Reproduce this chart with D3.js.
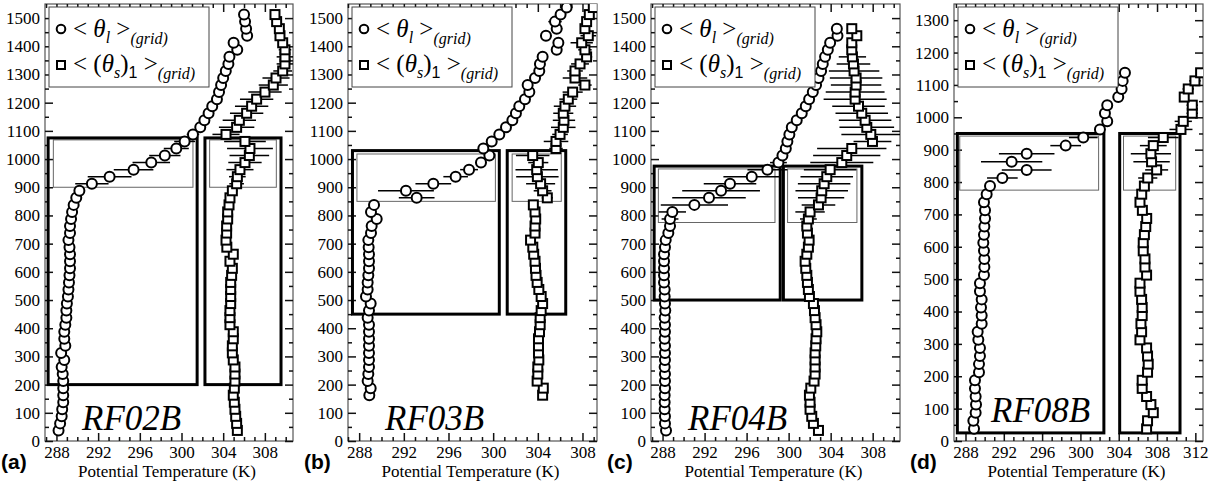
<!DOCTYPE html>
<html><head><meta charset="utf-8">
<script src="https://cdn.jsdelivr.net/npm/d3@7"></script>
<style>body{margin:0;background:#fff} svg{display:block} text{white-space:pre}</style>
</head><body><svg id="chart" width="1217" height="489"></svg>
<script>
// ---------------- DATA ----------------
const heightsA = [37.5,62.5,87.5,112.5,137.5,162.5,187.5,212.5,237.5,262.5,287.5,312.5,337.5,362.5,387.5,412.5,437.5,462.5,487.5,512.5,537.5,562.5,587.5,612.5,637.5,662.5,687.5,712.5,737.5,762.5,787.5,812.5,837.5,862.5,887.5,912.5,937.5,962.5,987.5,1012.5,1037.5,1062.5,1087.5,1112.5,1137.5,1162.5,1187.5,1212.5,1237.5,1262.5,1287.5,1312.5,1337.5,1362.5,1387.5,1412.5,1437.5,1462.5,1487.5,1512.5];
const thetaLA = [288.2,288.35,288.5,288.55,288.65,288.65,288.65,288.65,288.6,288.5,288.75,288.45,288.85,288.75,288.75,288.85,288.95,288.95,289.0,289.1,289.15,289.2,289.25,289.3,289.3,289.3,289.25,289.15,289.3,289.3,289.4,289.5,289.65,289.9,290.2,291.4,293.1,295.4,297.1,298.4,299.5,300.3,301.1,301.8,302.2,302.6,302.95,303.4,303.6,303.8,304.0,304.25,304.5,304.6,305.35,305.0,306.3,306.2,306.1,306.0];
const errLA = [0.2,0.2,0.2,0.2,0.2,0.2,0.2,0.2,0.2,0.2,0.2,0.2,0.2,0.2,0.2,0.2,0.2,0.2,0.2,0.2,0.2,0.2,0.2,0.2,0.2,0.2,0.2,0.2,0.2,0.2,0.2,0.25,0.3,0.3,0.4,1.6,2.1,1.9,1.8,1.5,1.2,1.0,0.6,0.4,0.3,0.3,0.3,0.3,0.3,0.3,0.3,0.3,0.3,0.3,0.3,0.3,0.3,0.2,0.2,0.2];
const thetaSA = [305.36,305.29,305.2,305.13,305.07,304.97,305.07,305.13,305.13,305.13,304.97,304.88,304.88,304.97,304.97,304.65,304.65,304.65,304.72,304.72,304.72,304.72,304.81,304.88,304.65,304.97,304.35,304.27,304.33,304.33,304.43,304.43,304.56,304.65,304.88,305.29,305.36,305.61,306.09,306.51,306.57,306.09,304.27,305.29,305.55,306.25,306.73,307.21,308.01,308.81,309.07,309.71,309.93,309.93,309.93,309.71,309.45,309.39,309.13,308.97];
const errSA = [0.25,0.25,0.25,0.25,0.25,0.25,0.25,0.25,0.25,0.25,0.25,0.25,0.25,0.25,0.25,0.25,0.25,0.25,0.25,0.25,0.25,0.25,0.25,0.25,0.25,0.25,0.25,0.25,0.25,0.25,0.25,0.25,0.3,0.3,0.5,0.7,0.8,1.3,1.6,1.9,2.2,2.0,1.3,1.7,1.6,1.6,1.6,1.6,1.6,1.4,1.3,0.9,0.8,0.8,0.6,0.4,0.3,0.3,0.3,0.3];

const heightsB = [162.5,187.5,212.5,237.5,262.5,287.5,312.5,337.5,362.5,387.5,412.5,437.5,462.5,487.5,512.5,537.5,562.5,587.5,612.5,637.5,662.5,687.5,712.5,737.5,762.5,787.5,812.5,837.5,862.5,887.5,912.5,937.5,962.5,987.5,1012.5,1037.5,1062.5,1087.5,1112.5,1137.5,1162.5,1187.5,1212.5,1237.5,1262.5,1287.5,1312.5,1337.5,1362.5,1387.5,1412.5,1437.5,1462.5,1487.5,1512.5,1537.5];
const thetaLB = [288.91,289.03,288.76,288.82,288.88,288.88,288.88,288.88,288.88,288.88,288.88,288.76,288.88,289.03,288.61,288.76,288.76,288.82,288.88,288.88,288.88,288.85,288.82,289.06,289.12,289.57,289.06,289.33,293.15,292.19,294.64,296.64,297.84,298.91,299.66,299.12,299.87,300.55,301.15,301.72,302.04,302.34,302.85,303.24,303.09,303.75,304.13,304.19,304.43,305.69,305.84,304.73,305.69,305.54,306.04,306.58];
const errLB = [0.2,0.2,0.2,0.2,0.2,0.2,0.2,0.2,0.2,0.2,0.2,0.2,0.2,0.2,0.2,0.2,0.2,0.2,0.2,0.2,0.2,0.2,0.2,0.2,0.2,0.2,0.2,0.2,1.6,2.5,1.6,1.1,0.8,0.5,0.4,0.2,0.2,0.2,0.2,0.2,0.2,0.2,0.2,0.2,0.2,0.2,0.2,0.2,0.2,0.2,0.3,0.5,0.5,0.6,0.3,0.2];
const thetaSB = [304.43,304.49,303.94,304.0,304.0,304.09,304.06,304.06,304.06,304.15,304.21,304.21,304.3,304.43,304.3,304.09,303.94,303.84,303.79,303.75,303.63,303.55,303.35,303.75,303.75,303.81,303.75,303.6,304.85,304.43,304.25,303.96,303.9,304.04,303.54,305.63,305.63,305.99,306.28,306.34,306.28,306.43,306.73,307.12,308.22,307.33,307.33,307.78,308.37,308.22,307.93,308.52,308.22,308.37,308.61,308.97];
const errSB = [0.2,0.2,0.2,0.2,0.2,0.2,0.2,0.2,0.2,0.2,0.2,0.2,0.2,0.2,0.2,0.2,0.2,0.2,0.2,0.2,0.2,0.2,0.2,0.2,0.2,0.2,0.2,0.3,0.5,0.8,1.3,1.9,1.9,0.9,1.5,0.6,1.1,0.7,1.1,1.0,0.9,1.0,0.8,0.9,0.6,1.1,0.7,0.8,0.5,0.6,1.0,0.7,0.4,0.25,0.25,0.25];

const heightsC = [37.5,62.5,87.5,112.5,137.5,162.5,187.5,212.5,237.5,262.5,287.5,312.5,337.5,362.5,387.5,412.5,437.5,462.5,487.5,512.5,537.5,562.5,587.5,612.5,637.5,662.5,687.5,712.5,737.5,762.5,787.5,812.5,837.5,862.5,887.5,912.5,937.5,962.5,987.5,1012.5,1037.5,1062.5,1087.5,1112.5,1137.5,1162.5,1187.5,1212.5,1237.5,1262.5,1287.5,1312.5,1337.5,1362.5,1387.5,1412.5,1437.5,1462.5];
const thetaLC = [288.33,288.23,288.23,288.2,288.2,288.2,288.23,288.23,288.23,288.2,288.23,288.23,288.23,288.2,288.23,288.23,288.2,288.26,288.23,288.2,288.2,288.14,288.14,288.14,288.14,288.14,288.23,288.3,288.55,288.71,288.71,288.93,291.03,292.42,293.57,294.42,296.49,297.98,299.03,299.41,299.73,299.88,300.07,300.3,300.77,301.25,301.63,301.95,302.3,302.61,302.84,303.09,303.25,303.47,303.73,303.95,304.65,304.59];
const errLC = [0.2,0.2,0.2,0.2,0.2,0.2,0.2,0.2,0.2,0.2,0.2,0.2,0.2,0.2,0.2,0.2,0.2,0.2,0.2,0.2,0.2,0.2,0.2,0.2,0.2,0.2,0.2,0.2,0.2,0.5,0.8,1.3,3.2,3.5,3.7,2.5,2.7,1.9,0.8,0.5,0.2,0.2,0.2,0.2,0.2,0.2,0.2,0.2,0.2,0.2,0.2,0.2,0.2,0.2,0.2,0.2,0.2,0.2];
const thetaSC = [302.84,302.36,302.2,302.04,302.04,301.98,302.11,302.42,302.52,302.52,302.52,302.52,302.58,302.61,302.68,302.61,302.52,302.46,302.36,301.98,301.88,301.79,301.73,301.63,301.57,301.73,301.88,301.95,301.79,301.73,301.88,302.04,302.84,303.09,303.15,303.38,303.63,303.95,305.06,305.53,306.01,307.98,307.82,307.44,307.28,306.96,306.65,306.33,306.33,306.42,306.42,306.23,306.17,306.07,306.01,306.01,306.49,306.01];
const errSC = [0.25,0.25,0.25,0.25,0.25,0.25,0.25,0.25,0.25,0.25,0.25,0.25,0.25,0.25,0.25,0.25,0.25,0.25,0.25,0.25,0.25,0.25,0.25,0.25,0.25,0.25,0.25,0.25,0.25,0.5,0.8,1.4,1.6,2.2,2.5,2.5,2.5,2.5,3.0,3.2,3.3,1.8,2.8,2.6,2.5,2.5,2.5,3.0,2.8,2.4,2.5,2.4,1.6,1.3,0.4,0.3,0.3,0.3];

const heightsD = [37.5,62.5,87.5,112.5,137.5,162.5,187.5,212.5,237.5,262.5,287.5,312.5,337.5,362.5,387.5,412.5,437.5,462.5,487.5,512.5,537.5,562.5,587.5,612.5,637.5,662.5,687.5,712.5,737.5,762.5,787.5,812.5,837.5,862.5,887.5,912.5,937.5,962.5,987.5,1012.5,1037.5,1062.5,1087.5,1112.5,1137.5];
const thetaLD = [288.89,288.82,289.06,289.1,289.06,288.99,288.99,289.41,289.41,289.51,289.51,289.34,289.27,289.69,289.69,289.62,289.69,289.51,289.51,289.93,289.97,289.97,289.93,289.86,289.93,289.97,290.04,290.04,289.93,290.21,290.56,291.85,294.39,292.82,294.39,298.46,300.3,302.04,302.8,302.56,302.8,303.95,304.3,304.41,304.65];
const errLD = [0.2,0.2,0.2,0.2,0.2,0.2,0.2,0.2,0.2,0.2,0.2,0.2,0.2,0.2,0.2,0.2,0.2,0.2,0.2,0.2,0.2,0.2,0.2,0.2,0.2,0.2,0.2,0.2,0.2,0.2,0.5,1.6,2.6,3.2,2.9,1.6,1.5,0.5,0.2,0.2,0.2,0.2,0.2,0.2,0.2];
const thetaSD = [306.91,307.01,307.61,307.36,306.91,306.45,306.45,307.01,307.08,307.01,306.91,306.22,306.39,306.32,306.45,306.45,306.39,306.22,306.22,306.91,306.74,306.74,306.56,306.56,306.68,306.82,306.92,306.47,306.22,306.4,306.68,307.03,307.96,307.43,307.36,307.61,308.65,310.5,310.74,311.68,311.68,310.84,311.26,311.96,312.55];
const errSD = [0.3,0.3,0.3,0.3,0.3,0.3,0.3,0.3,0.3,0.3,0.3,0.3,0.3,0.3,0.3,0.3,0.3,0.3,0.3,0.3,0.3,0.3,0.3,0.3,0.3,0.3,0.3,0.3,0.3,0.3,0.3,1.0,1.2,1.9,2.1,1.4,1.6,1.2,0.9,0.6,0.6,0.5,0.6,0.6,0.3];

// annotation boxes [xmin, xmax, zmin, zmax] in data units
const thickBoxesA = [[287.2,301.5,200,1075],[302.25,309.55,200,1075]];
const thinBoxesA  = [[287.7,301.1,900,1068],[302.7,309.1,900,1068]];
const thickBoxesB = [[287.4,300.55,450,1030],[301.26,306.5,450,1030]];
const thinBoxesB  = [[287.8,300.2,850,1018],[301.7,306.1,850,1018]];
const thickBoxesC = [[287.2,299.2,500,975],[299.5,306.97,500,975]];
const thinBoxesC  = [[287.6,298.7,775,965],[299.9,306.5,775,965]];
const thickBoxesD = [[287.15,302.45,25,950],[304.1,310.4,25,950]];
const thinBoxesD  = [[287.4,301.9,775,942],[304.5,309.95,775,942]];

const xTicksABC = [288,292,296,300,304,308];
const xTicksD = [288,292,296,300,304,308,312];
const yTicksABC = [0,100,200,300,400,500,600,700,800,900,1000,1100,1200,1300,1400,1500];
const yTicksD = [0,100,200,300,400,500,600,700,800,900,1000,1100,1200,1300];
const flightNames = ["RF02B","RF03B","RF04B","RF08B"];
const panelTags = ["(a)","(b)","(c)","(d)"];
const xTitle = "Potential Temperature (K)";

// ---------------- LAYOUT ----------------
const svg = d3.select("#chart");
const TOP = 4, BOTTOM = 441;
const panels = [
  {h:heightsA,L:thetaLA,eL:errLA,S:thetaSA,eS:errSA,xd:[286.9,310.7],yd:[0,1550],left:45,right:293,xt:xTicksABC,yt:yTicksABC,thick:thickBoxesA,thin:thinBoxesA,nameY:430},
  {h:heightsB,L:thetaLB,eL:errLB,S:thetaSB,eS:errSB,xd:[287.0,309.3],yd:[0,1550],left:348,right:597,xt:xTicksABC,yt:yTicksABC,thick:thickBoxesB,thin:thinBoxesB,nameY:430},
  {h:heightsC,L:thetaLC,eL:errLC,S:thetaSC,eS:errSC,xd:[286.9,310.6],yd:[0,1550],left:651,right:900,xt:xTicksABC,yt:yTicksABC,thick:thickBoxesC,thin:thinBoxesC,nameY:430},
  {h:heightsD,L:thetaLD,eL:errLD,S:thetaSD,eS:errSD,xd:[286.8,312.8],yd:[0,1350],left:954,right:1203,xt:xTicksD,yt:yTicksD,thick:thickBoxesD,thin:thinBoxesD,nameY:422}
];

const serif = "'Liberation Serif', Tinos, 'Nimbus Roman', 'Nimbus Roman No9 L', FreeSerif, 'DejaVu Serif', 'Noto Serif', Times, serif";
const sans = "'Liberation Sans', Arial, 'DejaVu Sans', sans-serif";

panels.forEach((p, i) => {
  const x = d3.scaleLinear().domain(p.xd).range([p.left, p.right]);
  const y = d3.scaleLinear().domain(p.yd).range([BOTTOM, TOP]);
  const g = svg.append("g");
  const clipId = "clip" + i;
  svg.append("clipPath").attr("id", clipId).append("rect")
    .attr("x", p.left).attr("y", TOP).attr("width", p.right - p.left).attr("height", BOTTOM - TOP);

  // frame
  g.append("rect").attr("x", p.left).attr("y", TOP).attr("width", p.right - p.left).attr("height", BOTTOM - TOP)
    .attr("fill", "none").attr("stroke", "#555").attr("stroke-width", 1.2);

  // ticks
  const minorX = d3.range(Math.ceil(p.xd[0]), Math.floor(p.xd[1]) + 1).filter(v => !p.xt.includes(v));
  const minorY = d3.range(50, p.yd[1], 100);
  const tickStyle = sel => { sel.select(".domain").remove(); sel.selectAll("line").attr("stroke", "#111").attr("stroke-width", 1.5); };
  const gb = g.append("g").attr("transform", `translate(0,${BOTTOM})`)
    .call(d3.axisBottom(x).tickValues(p.xt).tickSizeInner(-8).tickSizeOuter(0).tickPadding(5).tickFormat(d3.format("d")));
  tickStyle(gb);
  gb.attr("font-family", null).attr("font-size", null);
  gb.selectAll("text").style("font-family", serif).style("font-size", "17px").attr("fill", "#000");
  g.append("g").attr("transform", `translate(0,${BOTTOM})`).call(d3.axisBottom(x).tickValues(minorX).tickSize(-4).tickFormat("")).call(tickStyle);
  g.append("g").attr("transform", `translate(0,${TOP})`).call(d3.axisTop(x).tickValues(p.xt).tickSize(-8).tickFormat("")).call(tickStyle);
  g.append("g").attr("transform", `translate(0,${TOP})`).call(d3.axisTop(x).tickValues(minorX).tickSize(-4).tickFormat("")).call(tickStyle);

  const gl = g.append("g").attr("transform", `translate(${p.left},0)`)
    .call(d3.axisLeft(y).tickValues(p.yt).tickSizeInner(-8).tickSizeOuter(0).tickPadding(5).tickFormat(d3.format("d")));
  tickStyle(gl);
  gl.attr("font-family", null).attr("font-size", null);
  gl.selectAll("text").style("font-family", serif).style("font-size", "17px").attr("fill", "#000").attr("x", -5);
  g.append("g").attr("transform", `translate(${p.left},0)`).call(d3.axisLeft(y).tickValues(minorY).tickSize(-4).tickFormat("")).call(tickStyle);
  g.append("g").attr("transform", `translate(${p.right},0)`).call(d3.axisRight(y).tickValues(p.yt).tickSize(-8).tickFormat("")).call(tickStyle);
  g.append("g").attr("transform", `translate(${p.right},0)`).call(d3.axisRight(y).tickValues(minorY).tickSize(-4).tickFormat("")).call(tickStyle);

  // boxes
  g.selectAll(".thin").data(p.thin).join("rect")
    .attr("x", d => x(d[0])).attr("y", d => y(d[3])).attr("width", d => x(d[1]) - x(d[0])).attr("height", d => y(d[2]) - y(d[3]))
    .attr("fill", "none").attr("stroke", "#666").attr("stroke-width", 1);
  g.selectAll(".thick").data(p.thick).join("rect")
    .attr("x", d => x(d[0])).attr("y", d => y(d[3])).attr("width", d => x(d[1]) - x(d[0])).attr("height", d => y(d[2]) - y(d[3]))
    .attr("fill", "none").attr("stroke", "#000").attr("stroke-width", 3);

  // data
  const dl = p.h.map((h, k) => ({h, v: p.L[k], e: p.eL[k]}));
  const ds = p.h.map((h, k) => ({h, v: p.S[k], e: p.eS[k]}));
  const dg = g.append("g").attr("clip-path", `url(#${clipId})`);
  [dl, ds].forEach(arr => {
    dg.append("g").selectAll("line").data(arr).join("line")
      .attr("x1", d => x(d.v - d.e)).attr("x2", d => x(d.v + d.e))
      .attr("y1", d => y(d.h)).attr("y2", d => y(d.h))
      .attr("stroke", "#000").attr("stroke-width", 1.5);
  });
  dg.append("g").selectAll("rect").data(ds).join("rect")
    .attr("x", d => x(d.v) - 4.5).attr("y", d => y(d.h) - 4.5).attr("width", 9).attr("height", 9)
    .attr("fill", "#fff").attr("stroke", "#000").attr("stroke-width", 2);
  dg.append("g").selectAll("circle").data(dl).join("circle")
    .attr("cx", d => x(d.v)).attr("cy", d => y(d.h)).attr("r", 5)
    .attr("fill", "#fff").attr("stroke", "#000").attr("stroke-width", 2);

  // legend
  const Lx = p.left + 4, Ly = 7;
  const lg = g.append("g");
  lg.append("rect").attr("x", Lx).attr("y", Ly).attr("width", 160).attr("height", 80)
    .attr("fill", "#fff").attr("stroke", "#444").attr("stroke-width", 1);
  lg.append("circle").attr("cx", Lx + 12).attr("cy", Ly + 22).attr("r", 4.3).attr("fill", "#fff").attr("stroke", "#000").attr("stroke-width", 2);
  lg.append("rect").attr("x", Lx + 8).attr("y", Ly + 54).attr("width", 8).attr("height", 8).attr("fill", "#fff").attr("stroke", "#000").attr("stroke-width", 2);
  const t1 = lg.append("text").attr("x", Lx + 24).attr("y", Ly + 30).style("font-family", serif).style("font-size", "25px");
  t1.append("tspan").text("< ");
  t1.append("tspan").style("font-style", "italic").text("θ");
  t1.append("tspan").style("font-style", "italic").style("font-size", "16px").attr("dy", 6).text("l");
  t1.append("tspan").attr("dy", -6).text(" >");
  t1.append("tspan").style("font-style", "italic").style("font-size", "16px").attr("dy", 7).text("(grid)");
  const t2 = lg.append("text").attr("x", Lx + 24).attr("y", Ly + 65).style("font-family", serif).style("font-size", "25px");
  t2.append("tspan").text("< (");
  t2.append("tspan").style("font-style", "italic").text("θ");
  t2.append("tspan").style("font-style", "italic").style("font-size", "16px").attr("dy", 6).text("s");
  t2.append("tspan").attr("dy", -6).text(")");
  t2.append("tspan").style("font-family", sans).style("font-size", "16px").attr("dy", 6).text("1");
  t2.append("tspan").attr("dy", -6).text(" >");
  t2.append("tspan").style("font-style", "italic").style("font-size", "16px").attr("dy", 7).text("(grid)");

  // flight name
  g.append("text").attr("x", p.left + 37).attr("y", p.nameY).style("font-family", serif)
    .style("font-style", "italic").style("font-size", "35px").text(flightNames[i]);
  // x title
  g.append("text").attr("x", (p.left + p.right) / 2 - 2).attr("y", 477).attr("text-anchor", "middle")
    .style("font-family", serif).style("font-size", "17px").text(xTitle);
  // panel tag
  g.append("text").attr("x", p.left - 44).attr("y", 469).style("font-family", sans).style("font-weight", "bold")
    .style("font-size", "21px").text(panelTags[i]);
});
</script></body></html>
